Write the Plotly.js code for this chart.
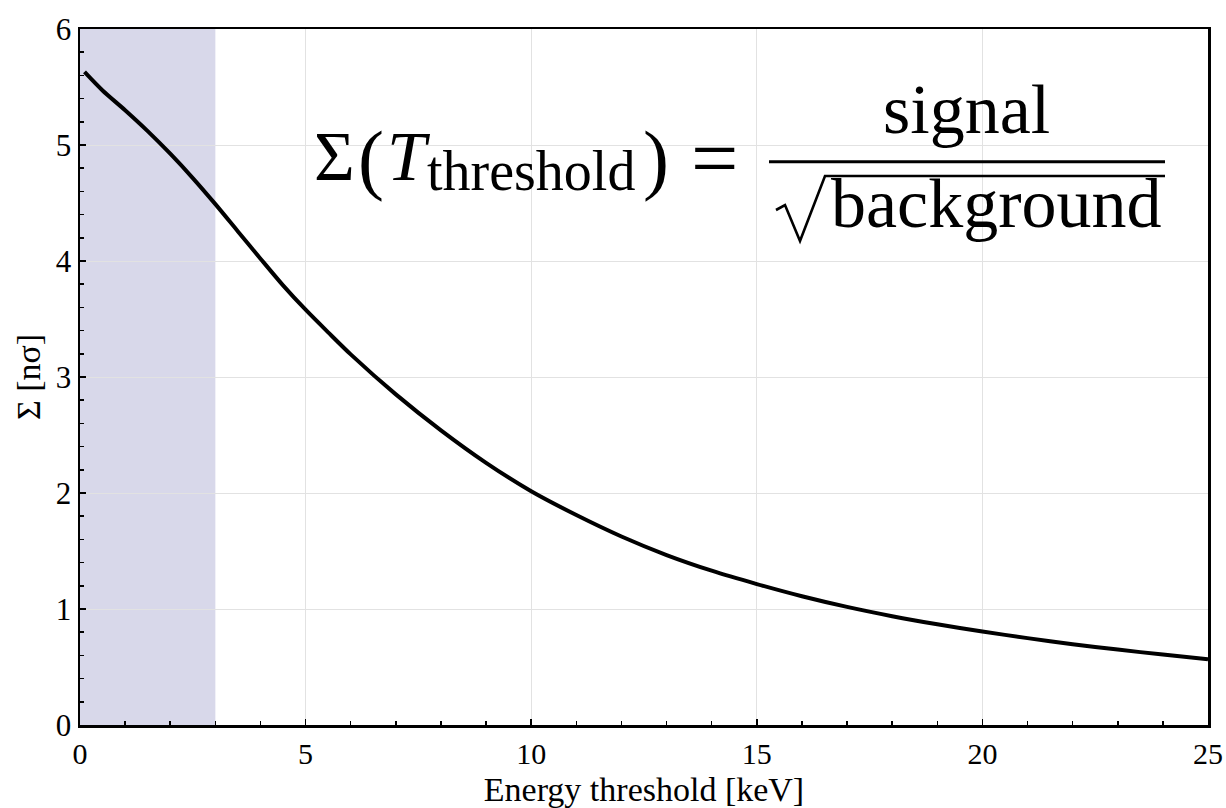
<!DOCTYPE html>
<html>
<head>
<meta charset="utf-8">
<script src="https://cdn.plot.ly/plotly-3.0.1.min.js"></script>
<style>
  html, body { margin: 0; padding: 0; background: #ffffff; }
  #chart { width: 1226px; height: 808px; }
</style>
</head>
<body>
<div id="chart"></div>
<script>
// Detection significance versus energy threshold
const energyKeV = [0.1, 0.5, 1, 1.5, 2, 2.5, 3, 3.5, 4, 4.5, 5, 5.5, 6, 7, 8, 9, 10,
                   11, 12, 13, 14, 15, 16, 17, 18, 19, 20, 21, 22, 23, 24, 25];
const significance = [5.63, 5.47, 5.30, 5.12, 4.925, 4.715, 4.49, 4.255, 4.02, 3.79, 3.58,
                      3.385, 3.195, 2.85, 2.54, 2.26, 2.015, 1.81, 1.625, 1.465, 1.33, 1.215,
                      1.11, 1.018, 0.938, 0.868, 0.806, 0.749, 0.697, 0.65, 0.607, 0.567];

// Low-energy band below the detector threshold
const thresholdBand = [0, 3];

const xTickVals = [0, 5, 10, 15, 20, 25];
const yTickVals = [0, 1, 2, 3, 4, 5, 6];

const serif = '"Liberation Serif", "Times New Roman", serif';

// Helpers for placing the formula in plot pixels
const plotLeft = 80, plotRight = 1208, plotTop = 29, plotBottom = 725;
const xRange = [0, 25], yRange = [0, 6];
const px2x = p => xRange[0] + (p - plotLeft) / (plotRight - plotLeft) * (xRange[1] - xRange[0]);
const py2y = p => yRange[0] + (plotBottom - p) / (plotBottom - plotTop) * (yRange[1] - yRange[0]);
// vertical centre of a text box given its baseline and font size
const mid = (baseline, size) => py2y(baseline - 0.3375 * size);

const curve = {
  x: energyKeV,
  y: significance,
  type: 'scatter',
  mode: 'lines',
  line: { color: '#000000', width: 4, shape: 'spline', smoothing: 0.8 },
  hoverinfo: 'x+y',
  showlegend: false
};

const fs = 70, subFs = 56;
const annotations = [
  { text: 'Σ', x: px2x(313), y: mid(180, fs), xanchor: 'left', size: fs },
  { text: '(', x: px2x(357), y: mid(185, 78), xanchor: 'left', size: 78 },
  { text: '<i>T</i>', x: px2x(386), y: mid(180, fs), xanchor: 'left', size: fs },
  { text: 'threshold', x: px2x(426), y: mid(190, subFs), xanchor: 'left', size: subFs },
  { text: ')', x: px2x(642), y: mid(185, 78), xanchor: 'left', size: 78 },
  { text: '=', x: px2x(714), y: mid(187, 84), xanchor: 'center', size: 84 },
  { text: 'signal', x: px2x(966), y: mid(133, fs), xanchor: 'center', size: fs },
  { text: 'background', x: px2x(996), y: mid(227, fs), xanchor: 'center', size: fs }
].map(a => ({
  text: a.text, x: a.x, y: a.y, xref: 'x', yref: 'y',
  xanchor: a.xanchor, yanchor: 'middle', showarrow: false, borderpad: 0,
  font: { family: serif, size: a.size, color: '#000000' }
}));

const radical = [[776, 210], [785, 205], [800, 241], [825, 176], [1165, 176]]
  .map((p, i) => (i ? 'L' : 'M') + px2x(p[0]) + ',' + py2y(p[1])).join(' ');

const shapes = [
  {
    type: 'rect', xref: 'x', yref: 'y',
    x0: thresholdBand[0], x1: thresholdBand[1], y0: yRange[0], y1: yRange[1],
    fillcolor: 'rgb(216,216,234)', line: { width: 0 }, layer: 'below'
  },
  {
    type: 'line', xref: 'x', yref: 'y',
    x0: px2x(769), x1: px2x(1165), y0: py2y(161.7), y1: py2y(161.7),
    line: { color: '#000000', width: 3 }
  },
  {
    type: 'path', xref: 'x', yref: 'y', path: radical,
    line: { color: '#000000', width: 2.6 }
  }
];

const layout = {
  width: 1226,
  height: 808,
  margin: { l: 80, r: 18, t: 29, b: 83 },
  paper_bgcolor: '#ffffff',
  plot_bgcolor: '#ffffff',
  font: { family: serif, color: '#000000' },
  showlegend: false,
  xaxis: {
    range: xRange,
    tickvals: xTickVals,
    ticktext: xTickVals.map(String),
    ticks: 'inside', ticklen: 6, tickwidth: 1.5, tickcolor: '#000000',
    minor: { dtick: 1, ticks: 'inside', ticklen: 4, tickwidth: 1.5, tickcolor: '#000000', showgrid: false },
    showline: true, linecolor: '#000000', linewidth: 2.5, mirror: true,
    showgrid: true, gridcolor: '#e2e2e2', gridwidth: 1,
    zeroline: false,
    tickfont: { family: serif, size: 30, color: '#000000' },
    title: { text: 'Energy threshold [keV]', font: { family: serif, size: 34, color: '#000000' }, standoff: 10 }
  },
  yaxis: {
    range: yRange,
    tickvals: yTickVals,
    ticktext: yTickVals.map(String),
    ticks: 'inside', ticklen: 6, tickwidth: 1.5, tickcolor: '#000000',
    minor: { dtick: 0.2, ticks: 'inside', ticklen: 4, tickwidth: 1.5, tickcolor: '#000000', showgrid: false },
    showline: true, linecolor: '#000000', linewidth: 2.5, mirror: true,
    showgrid: true, gridcolor: '#e2e2e2', gridwidth: 1,
    zeroline: false,
    tickfont: { family: serif, size: 31, color: '#000000' },
    title: { text: 'Σ [nσ]', font: { family: serif, size: 34, color: '#000000' }, standoff: 5 }
  },
  shapes: shapes,
  annotations: annotations
};

Plotly.newPlot('chart', [curve], layout, { displayModeBar: false, staticPlot: true });
</script>
</body>
</html>
